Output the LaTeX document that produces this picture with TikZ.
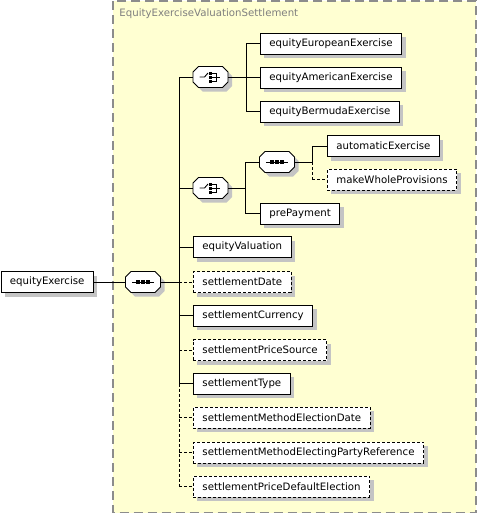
\documentclass[tikz,border=0pt]{standalone}
\usepackage{fontspec}
\setmainfont{DejaVu Sans}
\usetikzlibrary{positioning,shadows}
\definecolor{GroupFill}{HTML}{FFFFD2}
\definecolor{GroupLine}{HTML}{8C8C8C}
\definecolor{TitleGrey}{HTML}{7F7F7F}
\definecolor{ShadowGrey}{HTML}{C4C4C4}

\tikzset{
  elem/.style={draw, fill=white, anchor=west, minimum height=21pt, inner xsep=9pt, inner ysep=0pt,
    font=\fontsize{10.2}{12}\selectfont,
    drop shadow={shadow xshift=4pt, shadow yshift=-4pt, fill=ShadowGrey, opacity=1}},
  optelem/.style={elem, dash pattern=on 3pt off 2pt},
  optline/.style={dash pattern=on 3pt off 2pt},
  compositor/.style={inner sep=0pt, minimum width=35pt, minimum height=21pt},
  compbox/.pic={
    \fill[ShadowGrey, shift={(4,4)}] (-17.5,-5) -- (-12,-10.5) -- (12,-10.5) -- (17.5,-5)
      -- (17.5,5) -- (12,10.5) -- (-12,10.5) -- (-17.5,5) -- cycle;
    \draw[fill=white] (-17.5,-5) -- (-12,-10.5) -- (12,-10.5) -- (17.5,-5)
      -- (17.5,5) -- (12,10.5) -- (-12,10.5) -- (-17.5,5) -- cycle;
  },
  seqicon/.pic={
    \pic {compbox};
    \draw (-11,0) -- (11,0);
    \foreach \dx in {-5,0,5} \fill (\dx-1.6,-1.6) rectangle (\dx+1.6,1.6);
  },
  choiceicon/.pic={
    \pic {compbox};
    \draw (-11,0) -- (-6,0) -- (-2.5,-4);
    \foreach \dy in {-4,0,4} \fill (-1.6,\dy-1.5) rectangle (1.6,\dy+1.5);
    \draw (1.6,-4) -- (6,-4) -- (6,4) -- (1.6,4);
    \draw (1.6,0) -- (9,0);
  }
}

\begin{document}
\begin{tikzpicture}[x=1pt, y=-1pt, line width=0.9pt]
    \useasboundingbox (0,0) rectangle (477,514);

    % Group box
    \draw[GroupLine, fill=GroupFill, line width=1.6pt, dash pattern=on 9pt off 5pt] (113,1) rectangle (476,512.5);
    \node[anchor=west, text=TitleGrey, inner sep=0pt, font=\fontsize{10.2}{12}\selectfont] (title) at (119,14) {EquityExerciseValuationSettlement};

    % Root element and its sequence
    \node[elem] (root) at (0.5,282) {equityExercise};
    \node[compositor] (seq) at (143,282) {};
    \pic at (seq) {seqicon};

    % Choices
    \node[compositor] (choiceA) at (210.5,77) {};
    \pic at (choiceA) {choiceicon};
    \node[compositor] (choiceB) at (210.5,188) {};
    \pic at (choiceB) {choiceicon};
    \node[compositor] (seqB) at (277,162) {};
    \pic at (seqB) {seqicon};

    % First choice
    \node[elem] (euro) at (260,43.5) {equityEuropeanExercise};
    \node[elem] (amer) at (260,77.5) {equityAmericanExercise};
    \node[elem] (berm) at (260,111.5) {equityBermudaExercise};

    % Second choice
    \node[elem] (auto) at (327,146) {automaticExercise};
    \node[optelem] (mwp) at (327,179.5) {makeWholeProvisions};
    \node[elem] (prep) at (260,213.5) {prePayment};

    % Sequence children
    \node[elem] (eqval) at (193,247) {equityValuation};
    \node[optelem] (sdate) at (193,282) {settlementDate};
    \node[elem] (scur) at (193,315.5) {settlementCurrency};
    \node[optelem] (sps) at (193,350) {settlementPriceSource};
    \node[elem] (stype) at (193,383.5) {settlementType};
    \node[optelem] (smed) at (193,417.5) {settlementMethodElectionDate};
    \node[optelem] (smepr) at (193,452.5) {settlementMethodElectingPartyReference};
    \node[optelem] (spde) at (193,486.5) {settlementPriceDefaultElection};

    % Connectors
    \draw (root.east) -- (seq.west);
    \coordinate (spine) at (179,282);
    \draw (seq.east) -- (spine);
    \draw (spine |- choiceA.west) -- (spine |- stype.west);
    \draw[optline] (spine |- stype.west) -- (spine |- spde.west);
    \foreach \n in {choiceA,choiceB,eqval,scur,stype}
        \draw (spine |- \n.west) -- (\n.west);
    \foreach \n in {sdate,sps,smed,smepr,spde}
        \draw[optline] (spine |- \n.west) -- (\n.west);

    \coordinate (forkA) at (246,77);
    \draw (choiceA.east) -- (forkA);
    \draw (forkA |- euro.west) -- (forkA |- berm.west);
    \foreach \n in {euro,amer,berm}
        \draw (forkA |- \n.west) -- (\n.west);

    \coordinate (forkB) at (245,188);
    \draw (choiceB.east) -- (forkB);
    \draw (forkB |- seqB.west) -- (forkB |- prep.west);
    \foreach \n in {seqB,prep}
        \draw (forkB |- \n.west) -- (\n.west);

    \coordinate (forkC) at (312,162);
    \draw (seqB.east) -- (forkC);
    \draw (forkC |- auto.west) -- (forkC);
    \draw[optline] (forkC) -- (forkC |- mwp.west);
    \draw (forkC |- auto.west) -- (auto.west);
    \draw[optline] (forkC |- mwp.west) -- (mwp.west);

\end{tikzpicture}
\end{document}
